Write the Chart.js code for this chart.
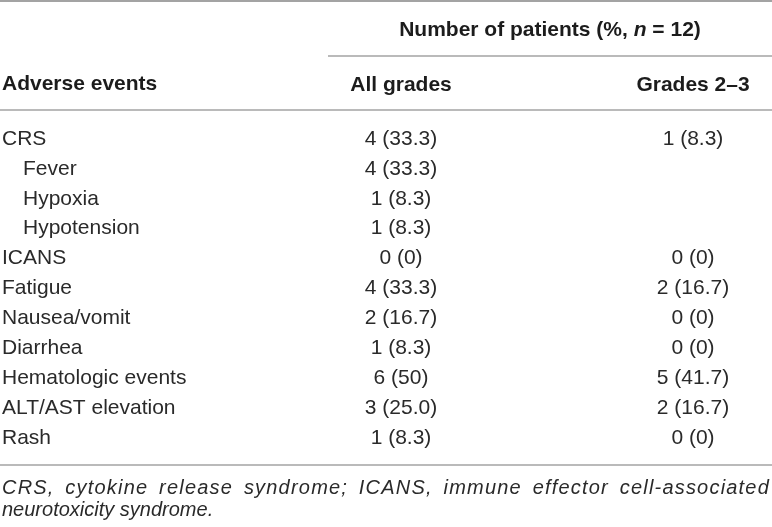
<!DOCTYPE html>
<html>
<head>
<meta charset="utf-8">
<script src="https://cdn.jsdelivr.net/npm/chart.js@4.4.0/dist/chart.umd.min.js"></script>
<style>
  html, body { margin: 0; padding: 0; background: #fff; }
  #caja { width: 772px; height: 527px; position: relative; }
</style>
</head>
<body>
<div id="caja"><canvas id="tabla"></canvas></div>
<script>
// filas de la tabla (de arriba a abajo)
const eventos = ['CRS', 'Fever', 'Hypoxia', 'Hypotension', 'ICANS', 'Fatigue', 'Nausea/vomit', 'Diarrhea', 'Hematologic events', 'ALT/AST elevation', 'Rash'];
const subEvento = [false, true, true, true, false, false, false, false, false, false, false];
const columnas = ['All grades', 'Grades 2–3'];

// numero de pacientes y porcentaje
const todosN = [4, 4, 1, 1, 0, 4, 2, 1, 6, 3, 1];
const todosPct = ['33.3', '33.3', '8.3', '8.3', '0', '33.3', '16.7', '8.3', '50', '25.0', '8.3'];
const grado23N = [1, null, null, null, 0, 2, 0, 0, 5, 2, 0];
const grado23Pct = ['8.3', null, null, null, '0', '16.7', '0', '0', '41.7', '16.7', '0'];

const tituloEventos = 'Adverse events';
const encabezado = [['Number of patients (%, ', false], ['n', true], [' = 12)', false]];
const nota = ['CRS, cytokine release syndrome; ICANS, immune effector cell-associated', 'neurotoxicity syndrome.'];

const fuente = '"Liberation Sans", Arial, Helvetica, sans-serif';
const colorTexto = '#2a2a2a';
const colorNegrita = '#1c1c1c';
const colorRegla = '#a3a3a3';

function puntos(n, pct, col) {
    let out = [];
    for (let i = 0; i < eventos.length; i++) {
        if (n[i] === null) continue;
        out.push({ x: col, y: eventos[i], texto: n[i] + ' (' + pct[i] + ')' });
    }
    return out;
}

function regla(ctx, x1, x2, y, grosor) {
    ctx.beginPath();
    ctx.lineWidth = grosor;
    ctx.strokeStyle = colorRegla;
    ctx.moveTo(x1, y);
    ctx.lineTo(x2, y);
    ctx.stroke();
}

const celdas = {
    id: 'celdas',
    afterDatasetsDraw(chart) {
        const ctx = chart.ctx;
        ctx.save();
        ctx.font = '21px ' + fuente;
        ctx.fillStyle = colorTexto;
        ctx.textAlign = 'center';
        ctx.textBaseline = 'middle';
        chart.data.datasets.forEach((ds, d) => {
            chart.getDatasetMeta(d).data.forEach((p, i) => {
                ctx.fillText(ds.data[i].texto, p.x, p.y);
            });
        });
        ctx.restore();
    },
    afterDraw(chart) {
        const ctx = chart.ctx;
        const area = chart.chartArea;
        const ejeX = chart.scales.x;
        const ancho = chart.width;
        ctx.save();

        // reglas horizontales
        regla(ctx, 0, ancho, 1, 2);
        const inicioSub = ejeX.getPixelForValue(0.75);
        regla(ctx, inicioSub, ancho, 56, 1.5);
        regla(ctx, 0, ancho, area.top - 14, 1.5);
        regla(ctx, 0, ancho, area.bottom + 12, 1.5);

        // encabezado de la primera columna
        ctx.fillStyle = colorNegrita;
        ctx.textBaseline = 'middle';
        ctx.textAlign = 'left';
        ctx.font = 'bold 21px ' + fuente;
        ctx.fillText(tituloEventos, 2, 84);

        // encabezado que agrupa las dos columnas
        let total = 0;
        encabezado.forEach(([t, it]) => {
            ctx.font = (it ? 'italic ' : '') + 'bold 21px ' + fuente;
            total += ctx.measureText(t).width;
        });
        let x = (inicioSub + ancho) / 2 - total / 2;
        encabezado.forEach(([t, it]) => {
            ctx.font = (it ? 'italic ' : '') + 'bold 21px ' + fuente;
            ctx.fillText(t, x, 30);
            x += ctx.measureText(t).width;
        });

        // nota al pie, justificada (algo de espacio entre letras como en la imprenta)
        ctx.fillStyle = colorTexto;
        ctx.font = 'italic 20px ' + fuente;
        const yNota = area.bottom + 12;
        nota.forEach((linea, k) => {
            const y = yNota + 23 + k * 22;
            if (k < nota.length - 1) {
                ctx.letterSpacing = '1.2px';
                const palabras = linea.split(' ');
                let anchoPalabras = 0;
                palabras.forEach(p => anchoPalabras += ctx.measureText(p).width);
                const hueco = (ancho - 4 - anchoPalabras) / (palabras.length - 1);
                let xp = 2;
                palabras.forEach(p => {
                    ctx.fillText(p, xp, y);
                    xp += ctx.measureText(p).width + hueco;
                });
                ctx.letterSpacing = '0px';
            } else {
                ctx.fillText(linea, 2, y);
            }
        });
        ctx.restore();
    }
};

new Chart(document.getElementById('tabla'), {
    type: 'scatter',
    data: {
        labels: eventos,
        datasets: [
            { label: columnas[0], data: puntos(todosN, todosPct, 1), pointRadius: 0, pointHoverRadius: 0 },
            { label: columnas[1], data: puntos(grado23N, grado23Pct, 2), pointRadius: 0, pointHoverRadius: 0 }
        ]
    },
    options: {
        responsive: true,
        maintainAspectRatio: false,
        animation: false,
        events: [],
        layout: { padding: { left: 2, right: 0, top: 0, bottom: 74 } },
        plugins: {
            legend: { display: false },
            tooltip: { enabled: false }
        },
        scales: {
            x: {
                type: 'linear',
                position: 'top',
                min: 0.3185,
                max: 2.2705,
                bounds: 'data',
                grid: { display: false },
                border: { display: false },
                afterFit: s => { s.height = 124; },
                afterBuildTicks: s => { s.ticks = [{ value: 1 }, { value: 2 }]; },
                ticks: {
                    autoSkip: false,
                    maxRotation: 0,
                    padding: 18,
                    color: colorNegrita,
                    font: { family: fuente, size: 21, weight: 'bold' },
                    callback: v => columnas[v - 1]
                }
            },
            y: {
                type: 'category',
                labels: eventos,
                offset: true,
                grid: { display: false },
                border: { display: false },
                afterFit: s => { s.width = 200; },
                ticks: {
                    autoSkip: false,
                    crossAlign: 'far',
                    padding: 0,
                    color: colorTexto,
                    font: { family: fuente, size: 21 },
                    callback: (v, i) => (subEvento[i] ? '\u2003' : '') + eventos[i]
                }
            }
        }
    },
    plugins: [celdas]
});
</script>
</body>
</html>
